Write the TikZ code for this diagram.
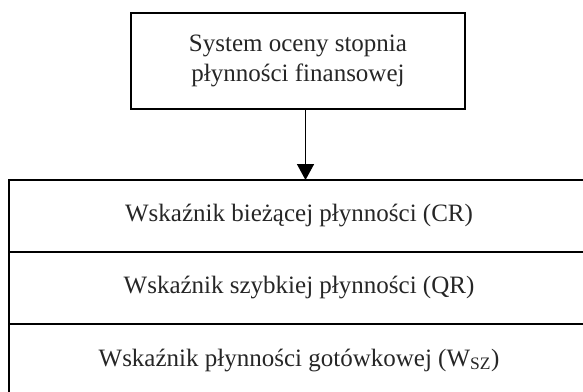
\documentclass[tikz,border=0pt]{standalone}
\usepackage{fontspec}
\setmainfont{Liberation Serif}
\usetikzlibrary{positioning, arrows.meta}

\begin{document}
\begin{tikzpicture}[x=1pt, y=1pt,
    box/.style={draw, line width=1.6pt, outer sep=0pt, inner sep=0pt, align=center, font=\fontsize{25}{30}\selectfont, text=black!85},
    rowbox/.style={box, minimum width=580pt, minimum height=72pt}]
    % Fix the page size
    \useasboundingbox (0,0) rectangle (583,-391);

    % Draw the top box
    \node[box, minimum width=334pt, minimum height=96pt] (System) at (298,-61) {System oceny stopnia\\płynności finansowej};

    % Draw the three rows of the lower box
    \node[rowbox] (Row1) at (299,-216) {Wskaźnik bieżącej płynności (CR)};
    \node[rowbox, below=0pt of Row1] (Row2) {Wskaźnik szybkiej płynności (QR)};
    \node[rowbox, below=0pt of Row2] (Row3) {Wskaźnik płynności gotówkowej (W\textsubscript{SZ})};

    % Connect the top box to the first row
    \draw[line width=1.6pt, -{Triangle[width=17pt, length=16pt]}] ([xshift=7.5pt]System.south) -- ([xshift=7.5pt]System.south |- Row1.north);
\end{tikzpicture}
\end{document}
